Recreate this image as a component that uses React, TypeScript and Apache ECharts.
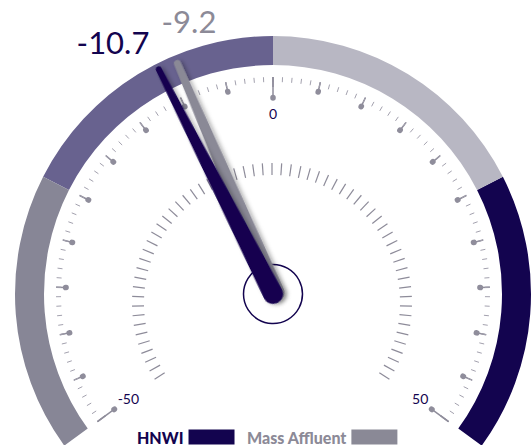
import { useEffect, useRef } from 'react';
import * as echarts from 'echarts';

// Scale and value bands
const AXIS_MIN = -50;
const AXIS_MAX = 50;
const AXIS_LABELS = [-50, 0, 50];
const BAND_ENDS = [-25, 0, 25, 50];
const BAND_COLORS = ['#878696', '#68628f', '#b8b7c3', '#13044f'];

// Needles
const SERIES_NAMES = ['HNWI', 'Mass Affluent'];
const SERIES_VALUES = [-10.7, -9.2];
const SERIES_COLORS = ['#13044f', '#8a8996'];
const SERIES_TEXT_COLORS = ['#13044f', '#8c8a97'];

const NAVY = '#13044f';
const TICK = '#8f8d9b';
const FONT = 'Lato, "Open Sans", sans-serif';

const CX = 273;
const CY = 294;
const START = 216;
const END = -36;

const angleOf = (v: number) =>
  START - ((v - AXIS_MIN) / (AXIS_MAX - AXIS_MIN)) * (START - END);

// tapered needles with rounded ends
const NAVY_NEEDLE = 'path://M7 3 A3 3 0 0 1 13 3 L20 255 A10 10 0 0 1 0 255 Z';
const GREY_NEEDLE = 'path://M5.5 3.5 A3.5 3.5 0 0 1 12.5 3.5 L18 253 A9 9 0 0 1 0 253 Z';

const blank = {
  type: 'gauge',
  center: [CX, CY],
  startAngle: START,
  endAngle: END,
  min: AXIS_MIN,
  max: AXIS_MAX,
  silent: true,
  axisLine: { show: false, lineStyle: { width: 0 } },
  axisTick: { show: false },
  splitLine: { show: false },
  axisLabel: { show: false },
  pointer: { show: false },
  anchor: { show: false },
  progress: { show: false },
  title: { show: false },
  detail: { show: false },
  data: [] as any[],
};

const dotLine = { length: 0.5, distance: 0, lineStyle: { color: TICK, width: 5.5, cap: 'round' } };

function buildOption() {
  const series: any[] = [];

  // coloured outer band
  series.push({
    ...blank,
    radius: 258,
    axisLine: {
      show: true,
      lineStyle: {
        width: 29,
        color: BAND_ENDS.map((v, i) => [(v - AXIS_MIN) / (AXIS_MAX - AXIS_MIN), BAND_COLORS[i]]),
      },
    },
  });

  // short major ticks + minor ticks
  series.push({
    ...blank,
    radius: 217,
    splitNumber: 20,
    splitLine: { show: true, length: 10, distance: 0, lineStyle: { color: TICK, width: 1.5 } },
    axisTick: { show: true, splitNumber: 5, length: 5, distance: 0, lineStyle: { color: '#a3a1ae', width: 1 } },
  });

  // long ticks with labels; the blank second line lifts the side labels a little
  series.push({
    ...blank,
    radius: 217,
    splitNumber: 2,
    splitLine: { show: true, length: 21, distance: 0, lineStyle: { color: TICK, width: 1.5 } },
    axisLabel: {
      show: true,
      distance: 4,
      padding: [3, 0, 0, 0],
      color: NAVY,
      fontSize: 14,
      lineHeight: 17,
      fontFamily: FONT,
      formatter: (v: number) => (AXIS_LABELS.includes(v) ? `${v}\n ` : ''),
    },
  });

  // dots on the short ticks (-45..-5 and 5..45)
  [[-45, -5], [5, 45]].forEach(([a, b]) => {
    series.push({
      ...blank,
      radius: 207.5,
      min: a,
      max: b,
      startAngle: angleOf(a),
      endAngle: angleOf(b),
      splitNumber: (b - a) / 5,
      splitLine: { show: true, ...dotLine },
    });
  });

  // dots on the long ticks
  series.push({
    ...blank,
    radius: 196.5,
    splitNumber: 2,
    splitLine: { show: true, ...dotLine },
  });

  // inner ring of fine ticks
  series.push({
    ...blank,
    center: [272, 303],
    radius: 140,
    startAngle: 213,
    endAngle: -33,
    splitNumber: 62,
    splitLine: { show: true, length: 12, distance: 0, lineStyle: { color: '#8d8b99', width: 1.2 } },
  });

  // needles, grey first so the navy one sits on top
  const needleOrder = [1, 0];
  const detailOffsets: Record<number, [number, number]> = { 0: [-160, -252], 1: [-84, -273] };
  needleOrder.forEach((i) => {
    const navy = i === 0;
    series.push({
      ...blank,
      silent: false,
      name: SERIES_NAMES[i],
      radius: 258,
      pointer: {
        show: true,
        icon: navy ? NAVY_NEEDLE : GREY_NEEDLE,
        width: navy ? 20 : 18,
        length: navy ? 265 : 262,
        offsetCenter: navy ? [0, 10] : [3, 9],
        itemStyle: {
          color: SERIES_COLORS[i],
          shadowBlur: 4,
          shadowOffsetX: 2,
          shadowOffsetY: 2,
          shadowColor: 'rgba(0,0,0,0.3)',
        },
      },
      anchor: navy
        ? { show: false }
        : {
            show: true,
            showAbove: false,
            size: 59,
            itemStyle: { color: '#ffffff', borderColor: NAVY, borderWidth: 1.5 },
          },
      detail: {
        show: true,
        valueAnimation: false,
        offsetCenter: detailOffsets[i],
        formatter: (v: number) => v.toFixed(1),
        color: SERIES_TEXT_COLORS[i],
        fontSize: 31,
        fontWeight: 'normal',
        fontFamily: FONT,
      },
      data: [{ value: SERIES_VALUES[i], name: SERIES_NAMES[i] }],
    });
  });

  return {
    animation: false,
    textStyle: { fontFamily: FONT },
    legend: {
      left: 137,
      top: 429,
      padding: 0,
      itemGap: 12,
      itemWidth: 46,
      itemHeight: 15,
      align: 'right',
      icon: 'rect',
      selectedMode: false,
      data: SERIES_NAMES.map((n, i) => ({
        name: n,
        itemStyle: { color: SERIES_COLORS[i] },
        textStyle: { color: SERIES_TEXT_COLORS[i], fontWeight: 900, fontSize: 16, fontFamily: FONT },
      })),
    },
    series,
  };
}

export default function App() {
  const ref = useRef<HTMLDivElement>(null);
  useEffect(() => {
    if (!ref.current) return;
    const chart = echarts.init(ref.current, undefined, { renderer: 'svg' });
    chart.setOption(buildOption() as any);
    return () => chart.dispose();
  }, []);
  return (
    <div
      ref={ref}
      style={{ position: 'fixed', left: 0, top: 0, width: 532, height: 445, background: '#ffffff' }}
    />
  );
}
